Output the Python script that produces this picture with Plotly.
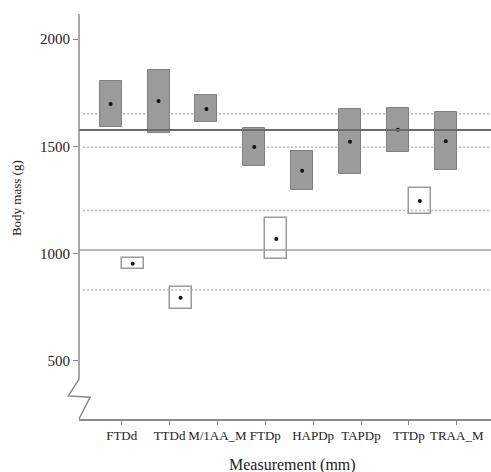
import plotly.graph_objects as go

categories = ["FTDd", "TTDd", "M/1AA_M", "FTDp", "HAPDp", "TAPDp", "TTDp", "TRAA_M"]

# grey intervals (first group)
grey_low = [1588, 1563, 1611, 1410, 1296, 1371, 1473, 1389]
grey_high = [1806, 1855, 1737, 1584, 1478, 1672, 1680, 1660]
grey_est = [1697, 1711, 1674, 1497, 1386, 1521, 1577, 1524]

# white intervals (second group)
white_low = [929, 740, None, 973, None, None, 1184, None]
white_high = [978, 842, None, 1164, None, None, 1304, None]
white_est = [952, 793, None, 1068, None, None, 1245, None]

# reference lines
solid_upper = 1576
solid_lower = 1016
dotted_lines = [1652, 1495, 1200, 830]

y_ticks = [500, 1000, 1500, 2000]

idx = list(range(len(categories)))
W = 0.46
FONT = "Liberation Serif"

fig = go.Figure()

fig.add_trace(go.Bar(
    x=idx, y=[h - l for h, l in zip(grey_high, grey_low)], base=grey_low,
    width=W, offset=-W,
    marker=dict(color="#9b9b9b", line=dict(color="#808080", width=1)),
    showlegend=False, hoverinfo="skip"))

wx = [i for i in idx if white_low[i] is not None]
fig.add_trace(go.Bar(
    x=wx, y=[white_high[i] - white_low[i] for i in wx], base=[white_low[i] for i in wx],
    width=W, offset=0,
    marker=dict(color="rgba(255,255,255,0)", line=dict(color="#9a9a9a", width=1.5)),
    showlegend=False, hoverinfo="skip"))

fig.add_trace(go.Scatter(
    x=[i - W / 2 for i in idx], y=grey_est, mode="markers",
    marker=dict(color="#111", size=4), showlegend=False))
fig.add_trace(go.Scatter(
    x=[i + W / 2 for i in wx], y=[white_est[i] for i in wx], mode="markers",
    marker=dict(color="#111", size=4), showlegend=False))

for v in dotted_lines:
    fig.add_shape(type="line", xref="paper", x0=0.01, x1=1, yref="y", y0=v, y1=v,
                  line=dict(color="#b8b8b8", width=1.5, dash="2px,2px"), layer="below")
fig.add_shape(type="line", xref="paper", x0=0, x1=1, yref="y", y0=solid_upper, y1=solid_upper,
              line=dict(color="#6a6a6a", width=1.8))
fig.add_shape(type="line", xref="paper", x0=0, x1=1, yref="y", y0=solid_lower, y1=solid_lower,
              line=dict(color="#a0a0a0", width=1.5), layer="below")

# y axis line with break
ax_col = "#8a8a8a"
fig.add_shape(type="path", xref="paper", yref="paper",
              path="M 0 1 L 0 0.098 L -0.026 0.057 L 0.027 0.054 L 0 0",
              line=dict(color=ax_col, width=1.5))

fig.add_annotation(text="Measurement (mm)", xref="paper", yref="paper", x=0.517, y=-0.114,
                   showarrow=False, font=dict(family=FONT, size=16, color="#222"),
                   xanchor="center", yanchor="middle")
fig.add_annotation(text="Body mass (g)", xref="paper", yref="paper", x=-0.150, y=0.546,
                   showarrow=False, textangle=-90, font=dict(family=FONT, size=13, color="#222"),
                   xanchor="center", yanchor="middle")

fig.update_layout(
    width=491, height=472,
    margin=dict(l=79, r=0, t=14, b=53),
    plot_bgcolor="white", paper_bgcolor="white",
    bargap=0, barmode="overlay",
    xaxis=dict(range=[-0.892, 7.716], tickmode="array", tickvals=idx, ticktext=categories,
               tickangle=0,
               showgrid=False, zeroline=False, showline=True, linecolor=ax_col, linewidth=1.5,
               ticks="outside", ticklen=4, tickcolor=ax_col, tickwidth=1,
               tickfont=dict(family=FONT, size=13, color="#222")),
    yaxis=dict(range=[228, 2117], tickmode="array", tickvals=y_ticks,
               showgrid=False, zeroline=False, showline=False,
               ticks="outside", ticklen=5, tickcolor=ax_col, tickwidth=1,
               tickfont=dict(family=FONT, size=15, color="#222")),
)

fig.write_html("out.html")
